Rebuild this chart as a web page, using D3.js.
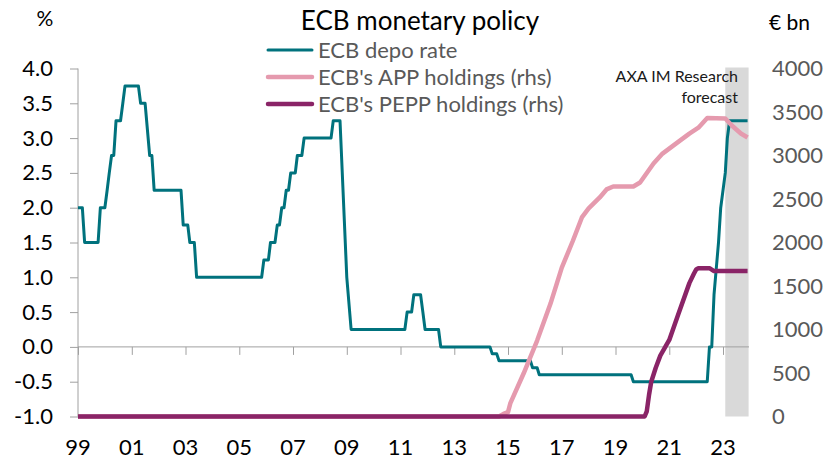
<!DOCTYPE html>
<html>
<head>
<meta charset="utf-8">
<script src="https://cdn.jsdelivr.net/npm/d3@7"></script>
<style>
  html, body { margin: 0; padding: 0; background: #ffffff; }
  svg { display: block; font-family: "Lato", "Open Sans", sans-serif; }
</style>
</head>
<body>
<svg id="chart" width="835" height="460"></svg>
<script>
// ---------------- DATA ----------------
const title = "ECB monetary policy";
const seriesNames = ["ECB depo rate", "ECB's APP holdings (rhs)", "ECB's PEPP holdings (rhs)"];
const leftTicks = [-1.0, -0.5, 0.0, 0.5, 1.0, 1.5, 2.0, 2.5, 3.0, 3.5, 4.0];
const rightTicks = [0, 500, 1000, 1500, 2000, 2500, 3000, 3500, 4000];
const xTickYears = [1999, 2001, 2003, 2005, 2007, 2009, 2011, 2013, 2015, 2017, 2019, 2021, 2023];
const xTickLabels = ["99", "01", "03", "05", "07", "09", "11", "13", "15", "17", "19", "21", "23"];
const forecastPeriod = ["2023-02-01", "2023-12-15"];
const forecastLabel = ["AXA IM Research", "forecast"];

// ECB deposit facility rate (%), monthly breakpoints
const depoRate = [
  ["1999-01", 2.0], ["1999-03", 2.0], ["1999-04", 1.5], ["1999-10", 1.5], ["1999-11", 2.0],
  ["2000-01", 2.0], ["2000-02", 2.25], ["2000-03", 2.5], ["2000-04", 2.75], ["2000-05", 2.75],
  ["2000-06", 3.25], ["2000-08", 3.25], ["2000-09", 3.5], ["2000-10", 3.75], ["2001-04", 3.75],
  ["2001-05", 3.5], ["2001-07", 3.5], ["2001-09", 2.75], ["2001-10", 2.75], ["2001-11", 2.25],
  ["2002-11", 2.25], ["2002-12", 1.75], ["2003-02", 1.75], ["2003-03", 1.5], ["2003-05", 1.5],
  ["2003-06", 1.0], ["2005-11", 1.0], ["2005-12", 1.25], ["2006-02", 1.25], ["2006-03", 1.5],
  ["2006-05", 1.5], ["2006-06", 1.75], ["2006-07", 1.75], ["2006-08", 2.0], ["2006-09", 2.0],
  ["2006-10", 2.25], ["2006-11", 2.25], ["2006-12", 2.5], ["2007-02", 2.5], ["2007-03", 2.75],
  ["2007-05", 2.75], ["2007-06", 3.0], ["2008-06", 3.0], ["2008-07", 3.25], ["2008-10", 3.25],
  ["2009-01", 1.0], ["2009-03", 0.25], ["2011-03", 0.25], ["2011-04", 0.5], ["2011-06", 0.5],
  ["2011-07", 0.75], ["2011-10", 0.75], ["2011-11", 0.5], ["2011-12", 0.25], ["2012-06", 0.25],
  ["2012-07", 0.0], ["2014-05", 0.0], ["2014-06", -0.1], ["2014-08", -0.1], ["2014-09", -0.2],
  ["2015-11", -0.2], ["2015-12", -0.3], ["2016-02", -0.3], ["2016-03", -0.4], ["2019-08", -0.4],
  ["2019-09", -0.5], ["2022-06", -0.5], ["2022-07", 0.0], ["2022-08", 0.0], ["2022-09", 0.75],
  ["2022-11", 1.5], ["2022-12", 2.0], ["2023-02", 2.5], ["2023-03", 3.0], ["2023-04", 3.25],
  ["2023-12", 3.25]
];

// ECB APP holdings (EUR bn, rhs)
const appHoldings = [
  ["1999-01", 0], ["2014-09", 0], ["2014-11", 30], ["2015-01", 50], ["2015-02", 150],
  ["2015-08", 494], ["2016-02", 873], ["2016-08", 1298], ["2017-01", 1711], ["2017-06", 2020],
  ["2017-10", 2288], ["2018-01", 2392], ["2018-06", 2518], ["2018-09", 2610], ["2018-12", 2644],
  ["2019-09", 2644], ["2019-12", 2690], ["2020-06", 2908], ["2020-10", 3022], ["2021-04", 3137],
  ["2021-10", 3252], ["2022-02", 3320], ["2022-06", 3430], ["2023-02", 3425], ["2023-05", 3345],
  ["2023-09", 3253], ["2023-12", 3207]
];

// ECB PEPP holdings (EUR bn, rhs)
const peppHoldings = [
  ["1999-01", 0], ["2020-02", 0], ["2020-03", 60], ["2020-04", 250], ["2020-05", 400],
  ["2020-07", 560], ["2020-09", 700], ["2021-01", 880], ["2021-05", 1170], ["2021-10", 1533],
  ["2021-12", 1640], ["2022-01", 1690], ["2022-02", 1705], ["2022-07", 1705], ["2022-09", 1672],
  ["2023-12", 1672]
];

// ---------------- CHART ----------------
const svg = d3.select("#chart");
const parseMonth = d3.timeParse("%Y-%m");
const parseDay = d3.timeParse("%Y-%m-%d");

const colors = { rate: "#00727d", app: "#e59aae", pepp: "#8a2467" };

const x = d3.scaleTime()
  .domain([new Date(1999, 0, 1), new Date(2023, 0, 1)])
  .range([78, 723]);
const yL = d3.scaleLinear().domain([-1, 4]).range([416.5, 68.5]);
const yR = d3.scaleLinear().domain([0, 4000]).range([416.5, 68.5]);

// forecast band
svg.append("rect")
  .attr("x", x(parseDay(forecastPeriod[0])))
  .attr("y", yL(4) - 1)
  .attr("width", x(parseDay(forecastPeriod[1])) - x(parseDay(forecastPeriod[0])))
  .attr("height", yL(-1) - yL(4) + 1)
  .attr("fill", "#d9d9d9");

// left axis
const axisColor = "#a0a0a0";
const leftAxis = svg.append("g")
  .attr("transform", "translate(78,0)")
  .call(d3.axisLeft(yL).tickValues(leftTicks).tickSize(8).tickPadding(17)
    .tickFormat(d => d.toFixed(1)));
leftAxis.select(".domain").attr("stroke", axisColor).attr("d", `M0,${yL(4)}V${yL(-1)}`);
leftAxis.selectAll(".tick line").attr("stroke", axisColor);
leftAxis.selectAll(".tick text")
  .attr("fill", "#000").style("font-size", "22px").style("font-family", "Lato, sans-serif");

// x axis along zero line
const xAxis = svg.append("g")
  .attr("transform", `translate(0,${yL(0)})`)
  .call(d3.axisBottom(x)
    .tickValues(xTickYears.map(yr => new Date(yr, 0, 1)))
    .tickSize(8)
    .tickFormat((d, i) => ""));
xAxis.select(".domain").attr("stroke", axisColor).attr("d", `M78,0H749`);
xAxis.selectAll(".tick line").attr("stroke", axisColor);

// x labels at bottom
svg.append("g").selectAll("text")
  .data(xTickYears)
  .join("text")
  .attr("x", (d) => x(new Date(d, 0, 1)))
  .attr("y", 455)
  .attr("text-anchor", "middle")
  .attr("fill", "#000")
  .style("font-size", "22px")
  .text((d, i) => xTickLabels[i]);

// right axis labels
const rightAxis = svg.append("g")
  .attr("transform", "translate(772,0)")
  .call(d3.axisRight(yR).tickValues(rightTicks).tickSize(0).tickPadding(0)
    .tickFormat(d => String(d)));
rightAxis.select(".domain").remove();
rightAxis.selectAll(".tick text")
  .attr("fill", "#595959").style("font-size", "22px").style("font-family", "Lato, sans-serif");

// lines
const lineL = d3.line().x(d => x(parseMonth(d[0]))).y(d => yL(d[1]));
const lineR = d3.line().x(d => x(parseMonth(d[0]))).y(d => yR(d[1]));

svg.append("path").datum(depoRate)
  .attr("d", lineL).attr("fill", "none").attr("stroke", colors.rate)
  .attr("stroke-width", 3).attr("stroke-linejoin", "round");
svg.append("path").datum(appHoldings)
  .attr("d", lineR).attr("fill", "none").attr("stroke", colors.app)
  .attr("stroke-width", 4.5).attr("stroke-linejoin", "round");
svg.append("path").datum(peppHoldings)
  .attr("d", lineR).attr("fill", "none").attr("stroke", colors.pepp)
  .attr("stroke-width", 4.5).attr("stroke-linejoin", "round");

// title
svg.append("text")
  .attr("x", 420).attr("y", 30)
  .attr("text-anchor", "middle")
  .attr("fill", "#000")
  .style("font-size", "26px")
  .text(title);

// axis unit labels
svg.append("text").attr("x", 45).attr("y", 26).attr("text-anchor", "middle")
  .attr("fill", "#000").style("font-size", "21px").text("%");
svg.append("text").attr("x", 769).attr("y", 30).attr("text-anchor", "start")
  .attr("fill", "#000").style("font-size", "21px").text("€ bn");

// legend
const legendColors = [colors.rate, colors.app, colors.pepp];
const legendWidths = [3, 4.5, 4.5];
const legend = svg.append("g").selectAll("g")
  .data(seriesNames)
  .join("g")
  .attr("transform", (d, i) => `translate(0,${50 + i * 27})`);
legend.append("line")
  .attr("x1", 268).attr("x2", 312).attr("y1", 0).attr("y2", 0)
  .attr("stroke", (d, i) => legendColors[i])
  .attr("stroke-width", (d, i) => legendWidths[i])
  .attr("stroke-linecap", "round");
legend.append("text")
  .attr("x", 318).attr("y", 0).attr("dy", "0.35em")
  .attr("fill", "#595959")
  .style("font-size", "22px")
  .text(d => d);

// forecast label
svg.append("g").selectAll("text")
  .data(forecastLabel)
  .join("text")
  .attr("x", 738)
  .attr("y", (d, i) => 82 + i * 21)
  .attr("text-anchor", "end")
  .attr("fill", "#1a1a1a")
  .style("font-size", "16px")
  .text(d => d);
</script>
</body>
</html>
